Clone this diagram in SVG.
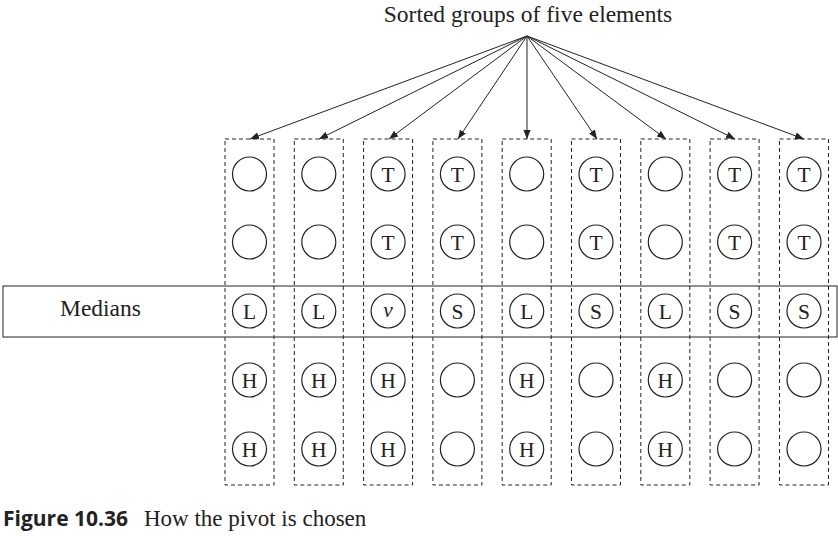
<svg xmlns="http://www.w3.org/2000/svg" width="838" height="536" viewBox="0 0 838 536">
<style>
.box{fill:none;stroke:#222;stroke-width:1;stroke-dasharray:4,3}
.c{fill:#fff;stroke:#222;stroke-width:1.2}
.t{font-family:"Liberation Serif",serif;font-size:21.5px;fill:#222;text-anchor:middle}
.lbl{font-family:"Liberation Serif",serif;font-size:23.5px;fill:#222}
.ar{stroke:#222;stroke-width:1;fill:none;marker-end:url(#ah)}
</style>
<defs>
<marker id="ah" viewBox="0 0 10 10" refX="10" refY="5" markerWidth="9" markerHeight="9" orient="auto" markerUnits="userSpaceOnUse">
<path d="M0,1 L10,5 L0,9 Z" fill="#222"/>
</marker>
</defs>
<rect width="838" height="536" fill="#fff"/>
<text class="lbl" x="528" y="22" text-anchor="middle">Sorted groups of five elements</text>
<g id="medians">
<rect x="3" y="286" width="834" height="51" fill="none" stroke="#222" stroke-width="1"/>
<text class="lbl" x="60" y="316">Medians</text>
</g>
<g id="connectors">
<line class="ar" x1="527" y1="36" x2="250" y2="139"/>
<line class="ar" x1="527" y1="36" x2="319" y2="139"/>
<line class="ar" x1="527" y1="36" x2="389" y2="139"/>
<line class="ar" x1="527" y1="36" x2="458" y2="139"/>
<line class="ar" x1="527" y1="36" x2="527" y2="139"/>
<line class="ar" x1="527" y1="36" x2="597" y2="139"/>
<line class="ar" x1="527" y1="36" x2="666" y2="139"/>
<line class="ar" x1="527" y1="36" x2="735" y2="139"/>
<line class="ar" x1="527" y1="36" x2="804" y2="139"/>
</g>
<g id="col1" transform="translate(249.5,0)">
<rect class="box" x="-24.5" y="139" width="49" height="346"/>
<circle class="c" cx="0" cy="174" r="17"/><circle class="c" cx="0" cy="242" r="17"/>
<circle class="c" cx="0" cy="311" r="17"/><text class="t" x="0" y="318.5">L</text>
<circle class="c" cx="0" cy="380" r="17"/><text class="t" x="0" y="387.5">H</text>
<circle class="c" cx="0" cy="449" r="17"/><text class="t" x="0" y="456.5">H</text>
</g>
<g id="col2" transform="translate(318.8,0)">
<rect class="box" x="-24.5" y="139" width="49" height="346"/>
<circle class="c" cx="0" cy="174" r="17"/><circle class="c" cx="0" cy="242" r="17"/>
<circle class="c" cx="0" cy="311" r="17"/><text class="t" x="0" y="318.5">L</text>
<circle class="c" cx="0" cy="380" r="17"/><text class="t" x="0" y="387.5">H</text>
<circle class="c" cx="0" cy="449" r="17"/><text class="t" x="0" y="456.5">H</text>
</g>
<g id="col3" transform="translate(388.1,0)">
<rect class="box" x="-24.5" y="139" width="49" height="346"/>
<circle class="c" cx="0" cy="174" r="17"/><text class="t" x="0" y="181.5">T</text>
<circle class="c" cx="0" cy="242" r="17"/><text class="t" x="0" y="249.5">T</text>
<circle class="c" cx="0" cy="311" r="17"/><text class="t" x="0" y="316.5" font-style="italic">v</text>
<circle class="c" cx="0" cy="380" r="17"/><text class="t" x="0" y="387.5">H</text>
<circle class="c" cx="0" cy="449" r="17"/><text class="t" x="0" y="456.5">H</text>
</g>
<g id="col4" transform="translate(457.4,0)">
<rect class="box" x="-24.5" y="139" width="49" height="346"/>
<circle class="c" cx="0" cy="174" r="17"/><text class="t" x="0" y="181.5">T</text>
<circle class="c" cx="0" cy="242" r="17"/><text class="t" x="0" y="249.5">T</text>
<circle class="c" cx="0" cy="311" r="17"/><text class="t" x="0" y="318.5">S</text>
<circle class="c" cx="0" cy="380" r="17"/><circle class="c" cx="0" cy="449" r="17"/>
</g>
<g id="col5" transform="translate(526.7,0)">
<rect class="box" x="-24.5" y="139" width="49" height="346"/>
<circle class="c" cx="0" cy="174" r="17"/><circle class="c" cx="0" cy="242" r="17"/>
<circle class="c" cx="0" cy="311" r="17"/><text class="t" x="0" y="318.5">L</text>
<circle class="c" cx="0" cy="380" r="17"/><text class="t" x="0" y="387.5">H</text>
<circle class="c" cx="0" cy="449" r="17"/><text class="t" x="0" y="456.5">H</text>
</g>
<g id="col6" transform="translate(596,0)">
<rect class="box" x="-24.5" y="139" width="49" height="346"/>
<circle class="c" cx="0" cy="174" r="17"/><text class="t" x="0" y="181.5">T</text>
<circle class="c" cx="0" cy="242" r="17"/><text class="t" x="0" y="249.5">T</text>
<circle class="c" cx="0" cy="311" r="17"/><text class="t" x="0" y="318.5">S</text>
<circle class="c" cx="0" cy="380" r="17"/><circle class="c" cx="0" cy="449" r="17"/>
</g>
<g id="col7" transform="translate(665.3,0)">
<rect class="box" x="-24.5" y="139" width="49" height="346"/>
<circle class="c" cx="0" cy="174" r="17"/><circle class="c" cx="0" cy="242" r="17"/>
<circle class="c" cx="0" cy="311" r="17"/><text class="t" x="0" y="318.5">L</text>
<circle class="c" cx="0" cy="380" r="17"/><text class="t" x="0" y="387.5">H</text>
<circle class="c" cx="0" cy="449" r="17"/><text class="t" x="0" y="456.5">H</text>
</g>
<g id="col8" transform="translate(734.6,0)">
<rect class="box" x="-24.5" y="139" width="49" height="346"/>
<circle class="c" cx="0" cy="174" r="17"/><text class="t" x="0" y="181.5">T</text>
<circle class="c" cx="0" cy="242" r="17"/><text class="t" x="0" y="249.5">T</text>
<circle class="c" cx="0" cy="311" r="17"/><text class="t" x="0" y="318.5">S</text>
<circle class="c" cx="0" cy="380" r="17"/><circle class="c" cx="0" cy="449" r="17"/>
</g>
<g id="col9" transform="translate(804,0)">
<rect class="box" x="-24.5" y="139" width="49" height="346"/>
<circle class="c" cx="0" cy="174" r="17"/><text class="t" x="0" y="181.5">T</text>
<circle class="c" cx="0" cy="242" r="17"/><text class="t" x="0" y="249.5">T</text>
<circle class="c" cx="0" cy="311" r="17"/><text class="t" x="0" y="318.5">S</text>
<circle class="c" cx="0" cy="380" r="17"/><circle class="c" cx="0" cy="449" r="17"/>
</g>
<g id="caption">
<text x="3" y="526" font-family="'Open Sans','Liberation Sans',sans-serif" font-weight="bold" font-size="21px" fill="#222">Figure 10.36</text>
<text x="144" y="526" font-family="'Liberation Serif',serif" font-size="23px" fill="#222">How the pivot is chosen</text>
</g>
</svg>
